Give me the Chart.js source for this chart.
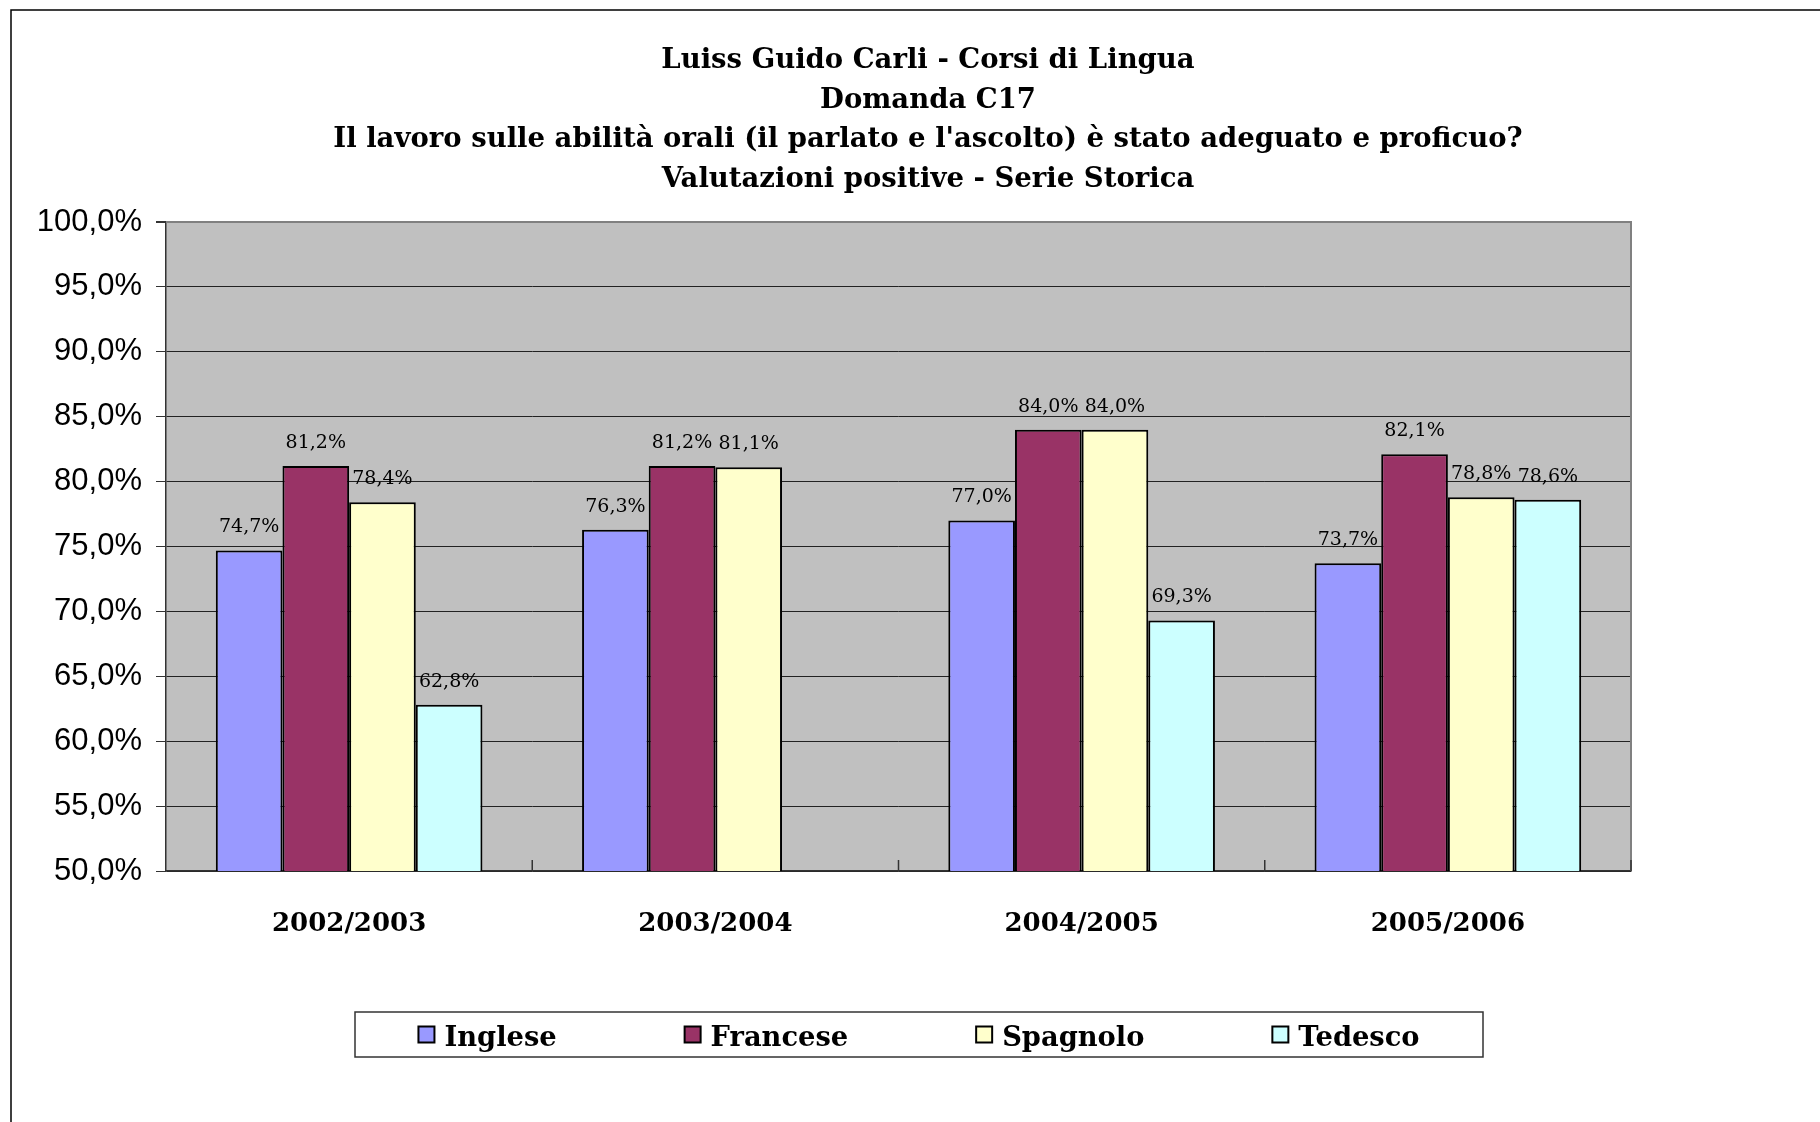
<!DOCTYPE html>
<html>
<head>
<meta charset="utf-8">
<script src="https://cdn.jsdelivr.net/npm/chart.js@4/dist/chart.umd.min.js"></script>
<style>
  html, body { margin: 0; padding: 0; background: #fff; }
  #wrap { position: relative; width: 1820px; height: 1122px; }
</style>
</head>
<body>
<div id="wrap"><canvas id="c" width="1820" height="1122"></canvas></div>
<script>
const titleLines = [
  "Luiss Guido Carli - Corsi di Lingua",
  "Domanda C17",
  "Il lavoro sulle abilità orali (il parlato e l'ascolto) è stato adeguato e proficuo?",
  "Valutazioni positive - Serie Storica"
];
const categories = ["2002/2003", "2003/2004", "2004/2005", "2005/2006"];
const seriesNames = ["Inglese", "Francese", "Spagnolo", "Tedesco"];
const inglese  = [74.7, 76.3, 77.0, 73.7];
const francese = [81.2, 81.2, 84.0, 82.1];
const spagnolo = [78.4, 81.1, 84.0, 78.8];
const tedesco  = [62.8, null, 69.3, 78.6];
const yMin = 50, yMax = 100, yStep = 5;

const colors = ["#9999ff", "#993366", "#ffffcc", "#ccffff"];
const seriesValues = [inglese, francese, spagnolo, tedesco];

function fmtPct(v, d) {
  return v.toFixed(d).replace('.', ',') + '%';
}

const decorPlugin = {
  id: 'decor',
  beforeDraw(chart) {
    const ctx = chart.ctx;
    const a = chart.chartArea;
    ctx.save();
    ctx.fillStyle = '#ffffff';
    ctx.fillRect(0, 0, chart.width, chart.height);
    // outer frame (left & top)
    ctx.strokeStyle = '#000';
    ctx.lineWidth = 1.5;
    ctx.beginPath();
    ctx.moveTo(11, chart.height + 2);
    ctx.lineTo(11, 10);
    ctx.lineTo(chart.width + 2, 10);
    ctx.stroke();
    // plot background
    ctx.fillStyle = '#c0c0c0';
    ctx.fillRect(a.left, a.top, a.right - a.left, a.bottom - a.top);
    // title
    ctx.fillStyle = '#000';
    ctx.font = 'bold 27.5px "DejaVu Serif"';
    ctx.textAlign = 'center';
    ctx.textBaseline = 'middle';
    titleLines.forEach((t, i) => ctx.fillText(t, 928, 61 + i * 39.5));
    ctx.restore();
  },
  afterDatasetsDraw(chart) {
    const ctx = chart.ctx;
    const a = chart.chartArea;
    const xs = chart.scales.x;
    ctx.save();
    // plot border top/right (gray)
    ctx.strokeStyle = '#808080';
    ctx.lineWidth = 2;
    ctx.beginPath();
    ctx.moveTo(a.left, a.top);
    ctx.lineTo(a.right, a.top);
    ctx.lineTo(a.right, a.bottom);
    ctx.stroke();
    // inner category ticks on x axis
    ctx.strokeStyle = '#333';
    ctx.lineWidth = 1.5;
    ctx.beginPath();
    for (let i = 0; i < categories.length; i++) {
      const x = (i < categories.length - 1)
        ? (xs.getPixelForValue(i) + xs.getPixelForValue(i + 1)) / 2
        : a.right;
      ctx.moveTo(x, a.bottom);
      ctx.lineTo(x, a.bottom - 11);
    }
    ctx.stroke();
    // data labels
    ctx.fillStyle = '#000';
    ctx.font = '19px "DejaVu Serif"';
    ctx.textAlign = 'center';
    ctx.textBaseline = 'middle';
    chart.data.datasets.forEach((ds, di) => {
      const meta = chart.getDatasetMeta(di);
      meta.data.forEach((el, i) => {
        const v = ds.data[i];
        if (v === null || v === undefined) return;
        ctx.fillText(fmtPct(v, 1), el.x, el.y - 23);
      });
    });
    // legend
    const boxL = 355, boxT = 1012, boxR = 1483, boxB = 1057;
    ctx.strokeStyle = '#333';
    ctx.lineWidth = 1.5;
    ctx.strokeRect(boxL, boxT, boxR - boxL, boxB - boxT);
    ctx.font = 'bold 27.3px "DejaVu Serif"';
    ctx.textAlign = 'left';
    const mk = 16, mkGap = 10, gap = 128;
    const widths = seriesNames.map(n => ctx.measureText(n).width);
    const total = widths.reduce((s, w) => s + mk + mkGap + w, 0) + gap * (seriesNames.length - 1);
    let x = (boxL + boxR) / 2 - total / 2;
    const cy = (boxT + boxB) / 2;
    seriesNames.forEach((n, i) => {
      ctx.fillStyle = colors[i];
      ctx.fillRect(x, cy - mk / 2, mk, mk);
      ctx.strokeStyle = '#000';
      ctx.lineWidth = 2;
      ctx.strokeRect(x, cy - mk / 2, mk, mk);
      ctx.fillStyle = '#000';
      ctx.fillText(n, x + mk + mkGap, cy + 4);
      x += mk + mkGap + widths[i] + gap;
    });
    ctx.restore();
  }
};

new Chart(document.getElementById('c'), {
  type: 'bar',
  data: {
    labels: categories,
    datasets: seriesNames.map((n, i) => ({
      label: n,
      data: seriesValues[i],
      backgroundColor: colors[i],
      borderColor: '#000',
      borderWidth: 2,
      borderSkipped: false,
      categoryPercentage: 0.728,
      barPercentage: 1.0
    }))
  },
  options: {
    responsive: false,
    animation: false,
    devicePixelRatio: 1,
    layout: { padding: { top: 222, left: 0, right: 189, bottom: 171 } },
    plugins: {
      legend: { display: false },
      title: { display: false },
      tooltip: { enabled: false }
    },
    scales: {
      x: {
        grid: { display: false, drawTicks: false },
        border: { display: true, color: '#333', width: 1.5 },
        ticks: {
          color: '#000',
          padding: 38,
          font: { family: 'DejaVu Serif', weight: 'bold', size: 26 }
        },
        afterFit(scale) { scale.height = 80; }
      },
      y: {
        min: yMin, max: yMax,
        grid: {
          color: (c) => (c.tick && c.tick.value === yMax) ? '#808080' : '#222',
          lineWidth: (c) => (c.tick && c.tick.value === yMax) ? 2 : 1,
          tickColor: '#333',
          tickLength: 10,
          drawTicks: true
        },
        border: { display: true, color: '#333', width: 1.5 },
        ticks: {
          stepSize: yStep,
          padding: 14,
          color: '#000',
          font: { family: 'Liberation Sans', size: 31 },
          callback: (v) => fmtPct(v, 1)
        },
        afterFit(scale) { scale.width = 166; }
      }
    }
  },
  plugins: [decorPlugin]
});
</script>
</body>
</html>
